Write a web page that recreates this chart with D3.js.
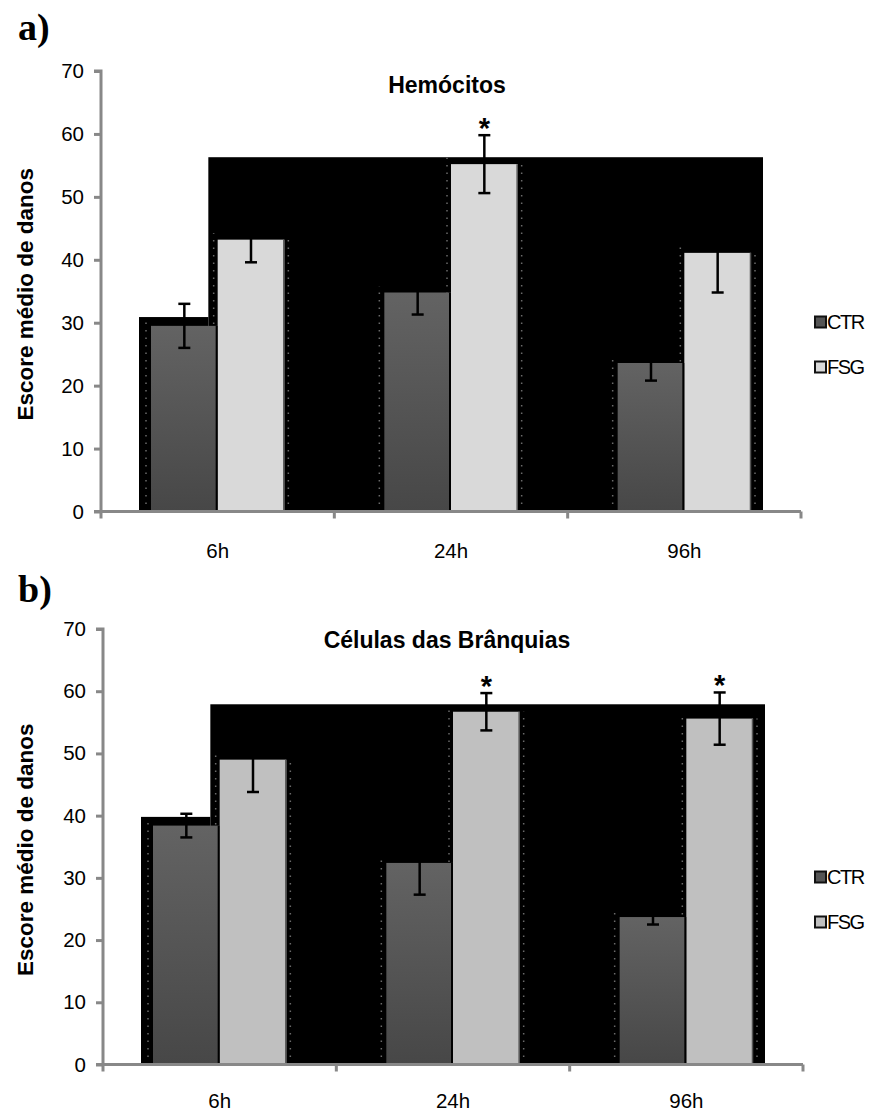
<!DOCTYPE html>
<html>
<head>
<meta charset="utf-8">
<script src="https://cdn.jsdelivr.net/npm/d3@7"></script>
<style>
  body { margin: 0; background: #fff; }
  svg text { font-family: Arial, "Liberation Sans", sans-serif; }
</style>
</head>
<body>
<svg id="chart" width="880" height="1111"></svg>
<script>
// categories and series
var categories = ["6h", "24h", "96h"];
var seriesNames = ["CTR", "FSG"];
var yTicks = [0, 10, 20, 30, 40, 50, 60, 70];

// a) Hemocitos
var hemoCTR    = [29.5, 34.8, 23.6];
var hemoFSG    = [43.2, 55.2, 41.1];
var hemoCTRerr = [3.5, 3.5, 2.8];
var hemoFSGerr = [3.6, 4.6, 6.3];
var hemoStar   = [false, true, false];   // FSG only
var hemoShadow = [30.9, 56.3];           // black shadow levels (left step, rest)

// b) Celulas das Branquias
var branqCTR    = [38.4, 32.4, 23.7];
var branqFSG    = [49.0, 56.7, 55.6];
var branqCTRerr = [1.9, 5.1, 1.2];
var branqFSGerr = [5.2, 3.0, 4.2];
var branqStar   = [false, true, true];
var branqShadow = [39.8, 57.9];

var svg = d3.select("#chart");

var defs = svg.append("defs");
var grad = defs.append("linearGradient").attr("id", "ctrGrad")
    .attr("x1", 0).attr("y1", 0).attr("x2", 0).attr("y2", 1);
grad.append("stop").attr("offset", "0%").attr("stop-color", "#636363");
grad.append("stop").attr("offset", "100%").attr("stop-color", "#474747");

function draw_panel(opt){
    var g = svg.append("g");
    var x = d3.scaleBand().domain(categories).range([opt.left, opt.right]).paddingInner(0).paddingOuter(0);
    var y = d3.scaleLinear().domain([0, 70]).range([opt.bottom, opt.top]);
    var bw = x.bandwidth() / 3.5;   // excel gap width 150%

    var rows = categories.map(function(c, i){
        return {cat: c, ctr: opt.ctr[i], fsg: opt.fsg[i], ctrErr: opt.ctrErr[i], fsgErr: opt.fsgErr[i], star: opt.star[i]};
    });
    function xc(d){ return x(d.cat) + x.bandwidth()/2 - bw; }
    function xf(d){ return x(d.cat) + x.bandwidth()/2; }

    // black "shadow" behind the bars
    var sLeft  = xc(rows[0]) - 12,
        sStep  = xc(rows[0]) + bw * 0.86,
        sRight = xf(rows[2]) + bw + 12;
    g.append("rect").attr("x", sLeft).attr("y", y(opt.shadow[0]))
        .attr("width", sStep - sLeft).attr("height", y(0) - y(opt.shadow[0])).attr("fill", "#000");
    g.append("rect").attr("x", sStep).attr("y", y(opt.shadow[1]))
        .attr("width", sRight - sStep).attr("height", y(0) - y(opt.shadow[1])).attr("fill", "#000");

    // dotted ghost edges
    var dots = [];
    rows.forEach(function(d){
        dots.push({x: xc(d) - 5, v: d.ctr + 1});
        dots.push({x: xf(d) + bw + 4, v: d.fsg});
        dots.push({x: xf(d) - 4, v: Math.min(opt.shadow[1], d.fsg + 1)});
    });
    g.selectAll(".dot").data(dots).enter().append("line")
        .attr("x1", function(d){ return d.x; }).attr("x2", function(d){ return d.x; })
        .attr("y1", y(0)).attr("y2", function(d){ return y(d.v); })
        .attr("stroke", "#6a6a6a").attr("stroke-width", 1.5).attr("stroke-dasharray", "1.5,6");

    // bars
    g.selectAll(".ctr").data(rows).enter().append("rect")
        .attr("x", xc).attr("y", function(d){ return y(d.ctr); })
        .attr("width", bw).attr("height", function(d){ return y(0) - y(d.ctr); })
        .attr("fill", "url(#ctrGrad)");
    g.selectAll(".fsg").data(rows).enter().append("rect")
        .attr("x", xf).attr("y", function(d){ return y(d.fsg); })
        .attr("width", bw).attr("height", function(d){ return y(0) - y(d.fsg); })
        .attr("fill", opt.fsgColor);
    // dark right edges
    g.selectAll(".edgeC").data(rows).enter().append("line")
        .attr("x1", function(d){ return xc(d) + bw - 1; }).attr("x2", function(d){ return xc(d) + bw - 1; })
        .attr("y1", function(d){ return y(d.ctr); }).attr("y2", y(0))
        .attr("stroke", "#000").attr("stroke-width", 2);
    g.selectAll(".edgeF").data(rows).enter().append("line")
        .attr("x1", function(d){ return xf(d) + bw - 0.5; }).attr("x2", function(d){ return xf(d) + bw - 0.5; })
        .attr("y1", function(d){ return y(d.fsg); }).attr("y2", y(0))
        .attr("stroke", "#555").attr("stroke-width", 1.5);

    // error bars
    var errs = [];
    rows.forEach(function(d){
        errs.push({cx: xc(d) + bw/2, v: d.ctr, e: d.ctrErr, star: false});
        errs.push({cx: xf(d) + bw/2, v: d.fsg, e: d.fsgErr, star: d.star});
    });
    var eg = g.selectAll(".err").data(errs).enter().append("g");
    eg.append("line")
        .attr("x1", function(d){ return d.cx; }).attr("x2", function(d){ return d.cx; })
        .attr("y1", function(d){ return y(d.v + d.e); }).attr("y2", function(d){ return y(d.v - d.e); })
        .attr("stroke", "#000").attr("stroke-width", 2.5);
    eg.append("line")
        .attr("x1", function(d){ return d.cx - 6; }).attr("x2", function(d){ return d.cx + 6; })
        .attr("y1", function(d){ return y(d.v + d.e); }).attr("y2", function(d){ return y(d.v + d.e); })
        .attr("stroke", "#000").attr("stroke-width", 2.5);
    eg.append("line")
        .attr("x1", function(d){ return d.cx - 6; }).attr("x2", function(d){ return d.cx + 6; })
        .attr("y1", function(d){ return y(d.v - d.e); }).attr("y2", function(d){ return y(d.v - d.e); })
        .attr("stroke", "#000").attr("stroke-width", 2.5);
    eg.filter(function(d){ return d.star; }).append("text")
        .attr("x", function(d){ return d.cx; }).attr("y", function(d){ return y(d.v + d.e) + 3; })
        .attr("text-anchor", "middle").style("font-size", "29px").attr("font-weight", "bold")
        .text("*");

    // y axis
    var ya = g.append("g").attr("transform", "translate(" + opt.left + ",0)")
        .call(d3.axisLeft(y).tickValues(yTicks).tickSize(7).tickPadding(10));
    ya.attr("font-size", null).attr("font-family", null);
    ya.select(".domain").attr("stroke", "#888").attr("stroke-width", 3)
        .attr("d", "M" + (-7) + "," + y(70) + "H0V" + y(0));
    ya.selectAll(".tick line").attr("stroke", "#888").attr("stroke-width", 3);
    ya.selectAll(".tick text").style("font-size", "20.5px").attr("fill", "#000");

    // x axis: line, boundary ticks, labels
    g.append("line").attr("x1", opt.left - 7).attr("x2", opt.right)
        .attr("y1", y(0)).attr("y2", y(0)).attr("stroke", "#888").attr("stroke-width", 3);
    var bounds = categories.map(function(c){ return x(c); }).concat([opt.right]);
    g.selectAll(".xt").data(bounds).enter().append("line")
        .attr("x1", function(d){ return d; }).attr("x2", function(d){ return d; })
        .attr("y1", y(0)).attr("y2", y(0) + 7).attr("stroke", "#888").attr("stroke-width", 3);
    var xa = g.append("g").attr("transform", "translate(0," + y(0) + ")")
        .call(d3.axisBottom(x).tickSize(0).tickPadding(opt.xPad));
    xa.attr("font-size", null).attr("font-family", null);
    xa.select(".domain").remove();
    xa.selectAll(".tick text").style("font-size", "20.5px").attr("fill", "#000");

    // titles
    g.append("text").attr("x", opt.titleX).attr("y", opt.titleY).attr("text-anchor", "middle")
        .style("font-size", "23px").attr("font-weight", "bold").text(opt.title);
    g.append("text").attr("transform", "translate(" + opt.ylabX + "," + ((y(0) + y(70)) / 2 + 3) + ") rotate(-90)")
        .attr("text-anchor", "middle").style("font-size", "22.5px").attr("font-weight", "bold")
        .text("Escore médio de danos");
    g.append("text").attr("x", 18).attr("y", opt.letterY)
        .style("font-family", "'Liberation Serif', 'Times New Roman', serif")
        .style("font-size", "38px").attr("font-weight", "bold").text(opt.letter);

    // legend
    var lg = g.selectAll(".leg").data(seriesNames).enter().append("g")
        .attr("transform", function(d, i){ return "translate(815," + (opt.legY + i * 45) + ")"; });
    lg.append("rect").attr("x", 0).attr("y", -5.5).attr("width", 11).attr("height", 11)
        .attr("fill", function(d, i){ return i === 0 ? "#555" : opt.fsgColor; })
        .attr("stroke", "#111").attr("stroke-width", 2);
    lg.append("text").attr("x", 12).attr("y", 7)
        .style("font-family", "'Liberation Sans Narrow', 'Arial Narrow', Arial, sans-serif")
        .style("font-size", "20px").attr("letter-spacing", "-1.5px").text(function(d){ return d; });
}

draw_panel({left: 101, right: 801, top: 71, bottom: 511.5,
            ctr: hemoCTR, fsg: hemoFSG, ctrErr: hemoCTRerr, fsgErr: hemoFSGerr, star: hemoStar,
            shadow: hemoShadow, fsgColor: "#d9d9d9",
            title: "Hemócitos", titleX: 447, titleY: 93, ylabX: 33, letter: "a)", letterY: 40,
            legY: 322, xPad: 32});

draw_panel({left: 103, right: 803, top: 629, bottom: 1064.5,
            ctr: branqCTR, fsg: branqFSG, ctrErr: branqCTRerr, fsgErr: branqFSGerr, star: branqStar,
            shadow: branqShadow, fsgColor: "#c0c0c0",
            title: "Células das Brânquias", titleX: 447, titleY: 648, ylabX: 33, letter: "b)", letterY: 602,
            legY: 877, xPad: 29});
</script>
</body>
</html>
